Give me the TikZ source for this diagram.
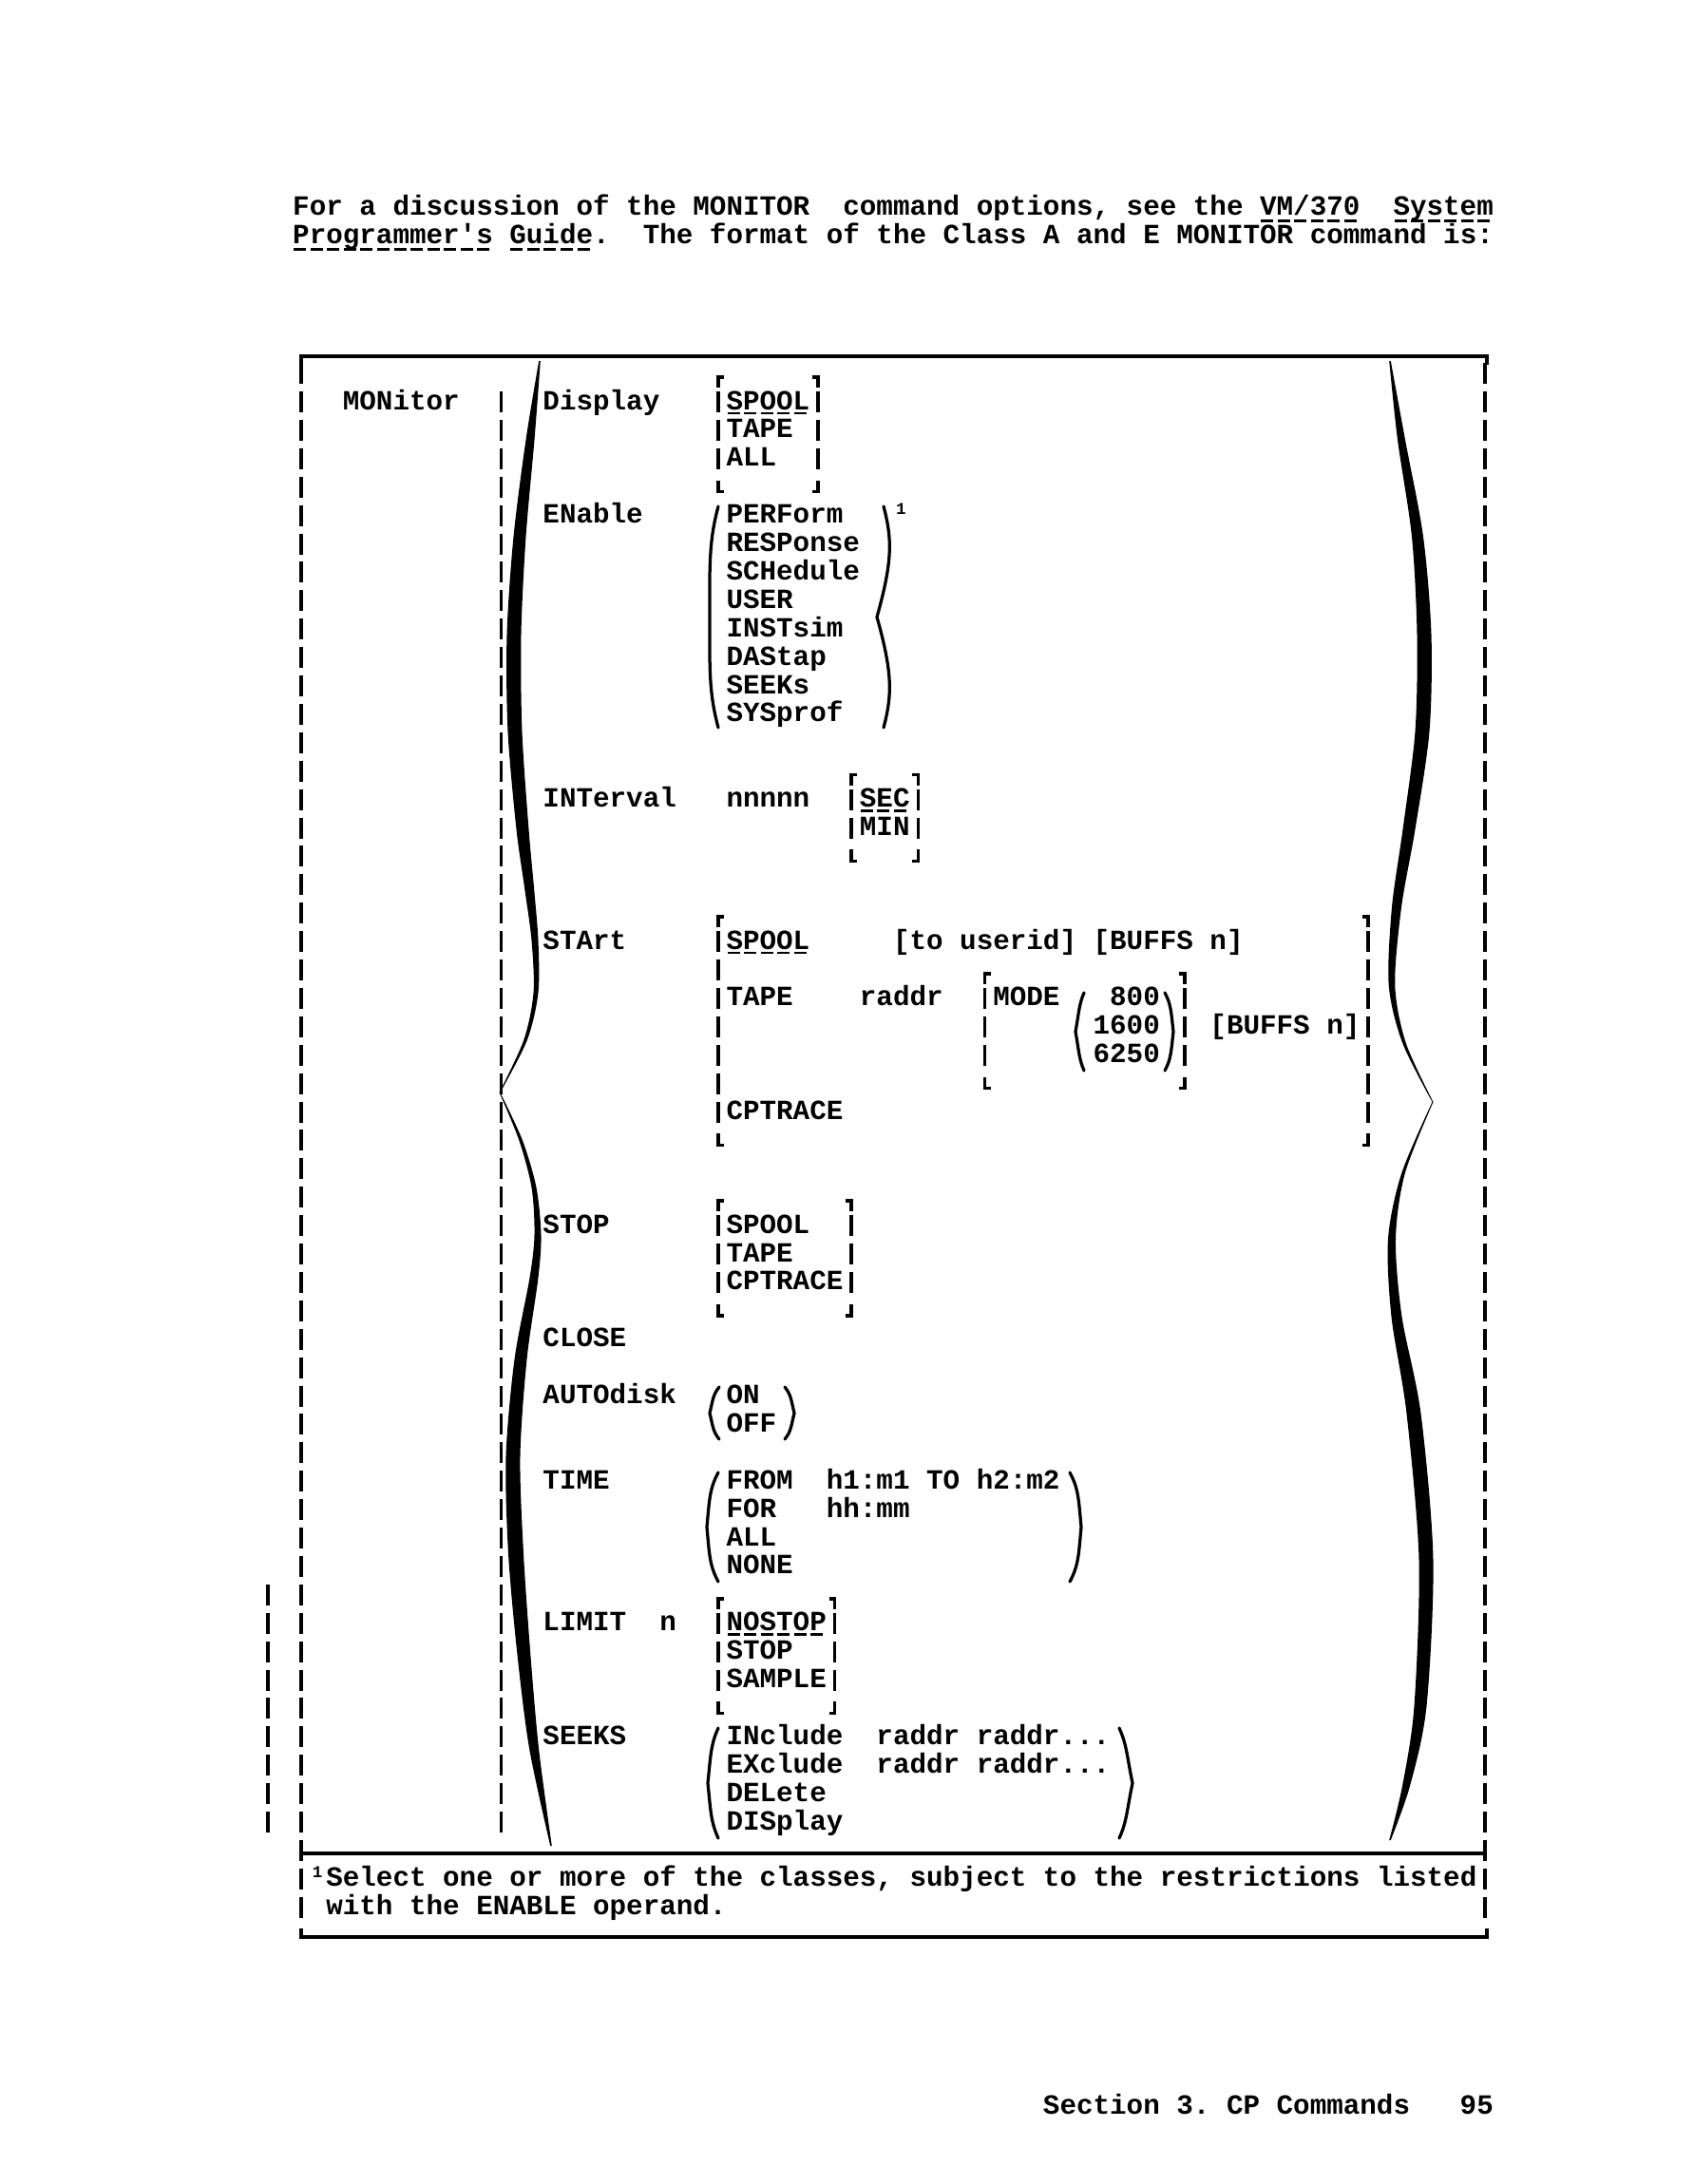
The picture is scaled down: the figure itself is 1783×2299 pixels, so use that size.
\documentclass[tikz,border=0pt]{standalone}
\usepackage{fontspec}
\setmonofont{Liberation Mono}
\frenchspacing
\newcounter{tn}
\tikzset{
  txt/.style={anchor=base west, inner sep=0pt, outer sep=0pt, font=\fontsize{11.7}{12}\selectfont\ttfamily\bfseries},
  suptxt/.style={anchor=base west, inner sep=0pt, outer sep=0pt, font=\fontsize{7}{7}\selectfont\ttfamily\bfseries},
  bar/.style={line width=1.4pt},
  ul/.style={line width=1.0pt, dash pattern=on 5.2pt off 1.82pt},
  sbr/.style={line width=1.3pt, line cap=round},
  rule/.style={line width=1.3pt}
}
% text at column #1, row #2
\newcommand\Tx[3]{\stepcounter{tn}\node[txt] (t\arabic{tn}) at ({308.2+17.55*(#1)},{431+29.9*(#2)}) {#3};}
\newcommand\Hx[3]{\stepcounter{tn}\node[txt] (t\arabic{tn}) at ({308.2+17.55*(#1)},{436+29.9*(#2)}) {#3};}
\newcommand\Sup[3]{\stepcounter{tn}\node[suptxt] (t\arabic{tn}) at ({308.2+17.55*(#1)+3},{431+29.9*(#2)-9}) {#3};}
% vertical bar piece
\newcommand\Vb[2]{\draw[bar] ({317+17.55*(#1)},{431+29.9*(#2)-19}) -- ++(0,22);}
\newcommand\Ctl[2]{\draw[bar] ({317+17.55*(#1)+6},{431+29.9*(#2)-4}) -- ++(-6,0) -- ++(0,11);}
\newcommand\Ctr[2]{\draw[bar] ({317+17.55*(#1)-6},{431+29.9*(#2)-4}) -- ++(6,0) -- ++(0,11);}
\newcommand\Cbl[2]{\draw[bar] ({317+17.55*(#1)},{431+29.9*(#2)-15}) -- ++(0,12) -- ++(6,0);}
\newcommand\Cbr[2]{\draw[bar] ({317+17.55*(#1)},{431+29.9*(#2)-15}) -- ++(0,12) -- ++(-6,0);}
% underline cols #1..#2 on row #3 (#4 = extra vertical shift)
\newcommand\Ul[4][0]{\draw[ul] ({308.2+17.55*(#2)+1},{431+29.9*(#4)+4+#1}) -- ({308.2+17.55*(#3+1)-1},{431+29.9*(#4)+4+#1});}
% small brace: x, ytop, ybot, arm bulge, tip offset
\newcommand\Br[5]{%
  \pgfmathsetmacro\zzL{(#3-#2)/2}%
  \pgfmathsetmacro\zzM{#2+\zzL}%
  \pgfmathsetmacro\zzC{#1+1.33*(#4)}%
  \draw[sbr] (#1,#2) .. controls (\zzC,{#2+0.3*\zzL}) and (\zzC,{\zzM-0.5*\zzL}) .. ({#1+#5},\zzM)
     .. controls (\zzC,{\zzM+0.5*\zzL}) and (\zzC,{#3-0.3*\zzL}) .. (#1,#3);}
\begin{document}
\begin{tikzpicture}[x=0.4pt,y=-0.4pt]
\fill[white] (0,0) rectangle (1783,2299);
\useasboundingbox (0,0) rectangle (1783,2299);

% ---------- header ----------
\Hx{0}{-7}{For a discussion of the MONITOR}
\Hx{33}{-7}{command options, see the VM/370}
\Hx{66}{-7}{System}
\Hx{0}{-6}{Programmer's Guide.}
\Hx{21}{-6}{The format of the Class A and E MONITOR command is:}
\Ul[7]{58}{63}{-7}\Ul[7]{66}{71}{-7}\Ul[7]{0}{11}{-6}\Ul[7]{13}{17}{-6}

% ---------- box ----------
\coordinate (tl) at (317,384);
\coordinate (tr) at (1565,384);
\coordinate (bl) at (317,2030);
\coordinate (br) at (1565,2030);
\draw[rule] (tl) -- (317,375) -- (1565,375) -- (tr);
\draw[rule] (bl) -- (317,2039) -- (1565,2039) -- (br);
\coordinate (sl) at (317,1951);
\coordinate (sr) at (1565,1951);
\draw[rule] (sl) -- (sr);
\foreach \r in {-1,...,53} {\Vb{0}{\r}\Vb{71}{\r}}
\foreach \r in {0,...,50} {\Vb{12}{\r}}
\foreach \r in {42,...,50} {\Vb{-2}{\r}}

% ---------- big braces ----------
\fill plot[smooth] coordinates {(567.2,380) (553.5,463) (540.5,565) (533.5,668) (534.5,770) (543.5,873) (552,934) (559.5,990) (561.5,1045) (551.2,1095) (525.5,1150)}
  -- plot[smooth] coordinates {(526.5,1150) (554.8,1095) (566.5,1045) (566.5,990) (562,934) (556.5,873) (549.5,770) (548.5,668) (553.5,565) (562.5,463) (568.8,380)} -- cycle;
\fill plot[smooth] coordinates {(525.5,1150) (546.2,1200) (559.5,1250) (562.5,1300) (557.5,1345) (541.5,1431) (532.5,1533) (535,1635) (544,1737) (557,1840) (579.2,1943)}
  -- plot[smooth] coordinates {(580.8,1943) (567,1840) (558,1737) (551,1635) (547.5,1533) (554.5,1431) (566.5,1345) (569.5,1300) (564.5,1250) (549.8,1200) (526.5,1150)} -- cycle;
\fill plot[smooth] coordinates {(1462.2,380) (1471,463) (1486,565) (1491.5,668) (1489.5,770) (1476.5,873) (1465,955) (1461.7,1037) (1476.2,1098) (1507.5,1160)}
  -- plot[smooth] coordinates {(1508.5,1160) (1479.8,1098) (1468.3,1037) (1475,955) (1489.5,873) (1504.5,770) (1506.5,668) (1498,565) (1479,463) (1463.8,380)} -- cycle;
\fill plot[smooth] coordinates {(1507.5,1160) (1475.2,1235) (1461,1304) (1464.5,1386) (1480.5,1488) (1493.5,1642) (1488.5,1796) (1476,1880) (1462.2,1937)}
  -- plot[smooth] coordinates {(1463.8,1937) (1484,1880) (1501.5,1796) (1508.5,1642) (1495.5,1488) (1475.5,1386) (1469,1304) (1478.8,1235) (1508.5,1160)} -- cycle;

% ---------- MONitor ----------
\Tx{3}{0}{MONitor}

% Display
\Tx{15}{0}{Display}
\Ctl{25}{-1}\Ctr{31}{-1}
\foreach \r in {0,1,2} {\Vb{25}{\r}\Vb{31}{\r}}
\Cbl{25}{3}\Cbr{31}{3}
\Tx{26}{0}{SPOOL}\Ul{26}{30}{0}
\Tx{26}{1}{TAPE}
\Tx{26}{2}{ALL}

% ENable
\Tx{15}{4}{ENable}
\Tx{26}{4}{PERForm}
\Tx{26}{5}{RESPonse}
\Tx{26}{6}{SCHedule}
\Tx{26}{7}{USER}
\Tx{26}{8}{INSTsim}
\Tx{26}{9}{DAStap}
\Tx{26}{10}{SEEKs}
\Tx{26}{11}{SYSprof}
\Br{756}{533}{766}{-7}{-9}
\Br{930}{533}{766}{7}{-7}
\Sup{36}{4}{1}

% INTerval
\Tx{15}{14}{INTerval}
\Tx{26}{14}{nnnnn}
\Ctl{33}{13}\Ctr{37}{13}
\foreach \r in {14,15} {\Vb{33}{\r}\Vb{37}{\r}}
\Cbl{33}{16}\Cbr{37}{16}
\Tx{34}{14}{SEC}\Ul{34}{36}{14}
\Tx{34}{15}{MIN}

% STArt
\Tx{15}{19}{STArt}
\Ctl{25}{18}\Ctr{64}{18}
\foreach \r in {19,...,25} {\Vb{25}{\r}\Vb{64}{\r}}
\Cbl{25}{26}\Cbr{64}{26}
\Tx{26}{19}{SPOOL}\Ul{26}{30}{19}
\Tx{36}{19}{[to userid]}
\Tx{48}{19}{[BUFFS n]}
\Tx{26}{21}{TAPE}
\Tx{34}{21}{raddr}
\Ctl{41}{20}\Ctr{53}{20}
\foreach \r in {21,22,23} {\Vb{41}{\r}\Vb{53}{\r}}
\Cbl{41}{24}\Cbr{53}{24}
\Tx{42}{21}{MODE}
\Tx{49}{21}{800}
\Tx{48}{22}{1600}
\Tx{48}{23}{6250}
\Br{1141}{1045}{1127}{-4}{-9}
\Br{1226}{1045}{1127}{5}{9}
\Tx{55}{22}{[BUFFS n]}
\Tx{26}{25}{CPTRACE}

% STOP
\Tx{15}{29}{STOP}
\Ctl{25}{28}\Ctr{33}{28}
\foreach \r in {29,30,31} {\Vb{25}{\r}\Vb{33}{\r}}
\Cbl{25}{32}\Cbr{33}{32}
\Tx{26}{29}{SPOOL}
\Tx{26}{30}{TAPE}
\Tx{26}{31}{CPTRACE}

% CLOSE
\Tx{15}{33}{CLOSE}

% AUTOdisk
\Tx{15}{35}{AUTOdisk}
\Tx{26}{35}{ON}
\Tx{26}{36}{OFF}
\Br{757}{1460}{1515}{-5}{-10}
\Br{826}{1460}{1515}{5}{10}

% TIME
\Tx{15}{38}{TIME}
\Tx{26}{38}{FROM}
\Tx{32}{38}{h1:m1 TO h2:m2}
\Tx{26}{39}{FOR}
\Tx{32}{39}{hh:mm}
\Tx{26}{40}{ALL}
\Tx{26}{41}{NONE}
\Br{756}{1550}{1665}{-7}{-12}
\Br{1126}{1550}{1665}{7}{12}

% LIMIT
\Tx{15}{43}{LIMIT}
\Tx{22}{43}{n}
\Ctl{25}{42}\Ctr{32}{42}
\foreach \r in {43,44,45} {\Vb{25}{\r}\Vb{32}{\r}}
\Cbl{25}{46}\Cbr{32}{46}
\Tx{26}{43}{NOSTOP}\Ul{26}{31}{43}
\Tx{26}{44}{STOP}
\Tx{26}{45}{SAMPLE}

% SEEKS
\Tx{15}{47}{SEEKS}
\Tx{26}{47}{INclude}
\Tx{35}{47}{raddr raddr...}
\Tx{26}{48}{EXclude}
\Tx{35}{48}{raddr raddr...}
\Tx{26}{49}{DELete}
\Tx{26}{50}{DISplay}
\Br{756}{1819}{1935}{-6}{-11}
\Br{1178}{1819}{1935}{6}{14}

% ---------- footnote ----------
\Sup{1}{52}{1}
\Tx{2}{52}{Select one or more of the classes, subject to the restrictions listed}
\Tx{2}{53}{with the ENABLE operand.}

% ---------- page footer ----------
\Tx{45}{60}{Section 3. CP Commands}
\Tx{70}{60}{95}
\end{tikzpicture}
\end{document}
